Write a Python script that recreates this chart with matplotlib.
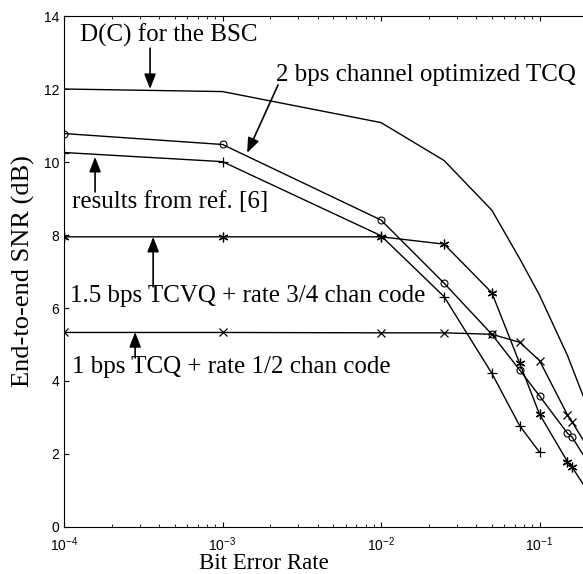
import matplotlib
matplotlib.use('Agg')
import matplotlib.pyplot as plt
import numpy as np

plt.rcParams['font.family'] = 'Liberation Sans'
plt.rcParams['mathtext.fontset'] = 'custom'
plt.rcParams['mathtext.rm'] = 'Liberation Sans'
plt.rcParams['mathtext.it'] = 'Liberation Sans:italic'
plt.rcParams['mathtext.bf'] = 'Liberation Sans:bold'

# bit error rates and SNR values
ber_dc = [1e-4, 1e-3, 1e-2, 0.025, 0.05, 0.075, 0.1, 0.15, 0.2]
snr_dc = [12.0, 11.93, 11.08, 10.04, 8.68, 7.35, 6.35, 4.7, 3.3]

ber_cotcq = [1e-4, 1e-3, 1e-2, 0.025, 0.05, 0.075, 0.1, 0.15, 0.16, 0.2]
snr_cotcq = [10.78, 10.48, 8.41, 6.68, 5.28, 4.3, 3.59, 2.57, 2.47, 1.8]

ber_ref6 = [1e-4, 1e-3, 1e-2, 0.025, 0.05, 0.075, 0.1]
snr_ref6 = [10.26, 10.01, 7.98, 6.31, 4.21, 2.77, 2.05]

ber_tcvq = [1e-4, 1e-3, 1e-2, 0.025, 0.05, 0.075, 0.1, 0.15, 0.16, 0.2]
snr_tcvq = [7.95, 7.95, 7.95, 7.75, 6.42, 4.48, 3.09, 1.79, 1.65, 1.0]

ber_tcq = [1e-4, 1e-3, 1e-2, 0.025, 0.05, 0.075, 0.1, 0.15, 0.16, 0.2]
snr_tcq = [5.33, 5.33, 5.32, 5.32, 5.28, 5.06, 4.56, 3.07, 2.89, 2.2]

fig = plt.figure(figsize=(5.83, 5.74), dpi=100)
ax = fig.add_axes([0.1098, 0.0819, 0.8902, 0.8902])

lw = 1.0
ax.plot(ber_dc, snr_dc, 'k-', lw=lw)
ax.plot(ber_cotcq, snr_cotcq, 'k-', lw=lw, marker='o', ms=5, mfc='none', mew=0.8)
ax.plot(ber_ref6, snr_ref6, 'k-', lw=lw, marker='+', ms=7, mew=0.9)
ax.plot(ber_tcvq, snr_tcvq, 'k-', lw=lw, marker=(6, 2, 0), ms=7, mew=0.9)
ax.plot(ber_tcq, snr_tcq, 'k-', lw=lw, marker='x', ms=6, mew=0.9)

ax.set_xscale('log')
ax.set_xlim(1e-4, 0.188)
ax.set_ylim(0, 14)
ax.set_yticks([0, 2, 4, 6, 8, 10, 12, 14])
ax.tick_params(direction='in', top=True, right=False, labelsize=10, width=0.8)
ax.tick_params(axis='x', pad=6)
ax.tick_params(which='minor', direction='in', top=True, right=False)
ax.spines['right'].set_visible(False)

ax.set_xlabel('Bit Error Rate', family='Liberation Serif', fontsize=16.5)
ax.set_ylabel('End-to-end SNR (dB)', family='Liberation Serif', fontsize=19)
ax.xaxis.set_label_coords(0.385, -0.05)
ax.yaxis.set_label_coords(-0.056, 0.5)

tfont = dict(family='Liberation Serif', fontsize=18, va='baseline', ha='left')
ax.text(1.26e-4, 13.29, 'D(C) for the BSC', **tfont)
ax.text(2.18e-3, 12.22, '2 bps channel optimized TCQ', **tfont)
ax.text(1.12e-4, 8.73, 'results from ref. [6]', **tfont)
ax.text(1.09e-4, 6.17, '1.5 bps TCVQ + rate 3/4 chan code', **tfont)
ax.text(1.12e-4, 4.21, '1 bps TCQ + rate 1/2 chan code', **tfont)

arrow = dict(arrowstyle='-|>,head_length=0.9,head_width=0.35', color='k', lw=1.2,
             shrinkA=0, shrinkB=0)
ax.annotate('', xy=(3.49e-4, 12.0), xytext=(3.49e-4, 13.12), arrowprops=arrow)
ax.annotate('', xy=(1.43e-3, 10.25), xytext=(2.24e-3, 12.11), arrowprops=arrow)
ax.annotate('', xy=(1.57e-4, 10.14), xytext=(1.57e-4, 9.18), arrowprops=arrow)
ax.annotate('', xy=(3.65e-4, 7.95), xytext=(3.65e-4, 6.58), arrowprops=arrow)
ax.annotate('', xy=(2.81e-4, 5.34), xytext=(2.81e-4, 4.63), arrowprops=arrow)

plt.savefig('out.png', dpi=100)
